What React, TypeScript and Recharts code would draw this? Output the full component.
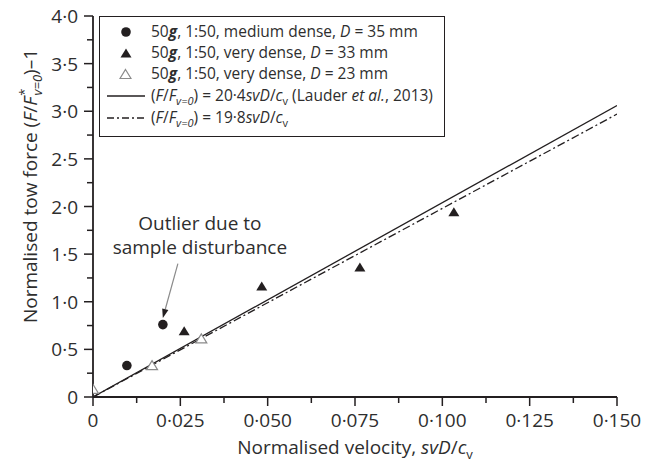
import { Label, Legend, ReferenceDot, ReferenceLine, Scatter, ScatterChart, XAxis, YAxis } from 'recharts'

// medium dense, D = 35 mm
const circleX = [0.0097, 0.02]
const circleY = [0.33, 0.76]
// very dense, D = 33 mm
const solidTriX = [0.0261, 0.0483, 0.0764, 0.1033]
const solidTriY = [0.69, 1.16, 1.36, 1.94]
// very dense, D = 23 mm
const openTriX = [0, 0.0169, 0.031]
const openTriY = [0.08, 0.33, 0.61]
// fitted lines, end points
const lauderX = [0, 0.15]
const lauderY = [0, 3.06]
const fitX = [0, 0.15]
const fitY = [0, 2.97]

const xTicks = [0, 0.0125, 0.025, 0.0375, 0.05, 0.0625, 0.075, 0.0875, 0.1, 0.1125, 0.125, 0.1375, 0.15]
const xMajor = [0, 0.025, 0.05, 0.075, 0.1, 0.125, 0.15]
const xLabels = ['0', '0·025', '0·050', '0·075', '0·100', '0·125', '0·150']
const yTicks = [0, 0.25, 0.5, 0.75, 1, 1.25, 1.5, 1.75, 2, 2.25, 2.5, 2.75, 3, 3.25, 3.5, 3.75, 4]
const yMajor = [0, 0.5, 1, 1.5, 2, 2.5, 3, 3.5, 4]
const yLabels = ['0', '0·5', '1·0', '1·5', '2·0', '2·5', '3·0', '3·5', '4·0']

// annotation arrow (tail, head) and text anchor
const arrowX = [0.0243, 0.02]
const arrowY = [1.4, 0.83]
const noteX = 0.0306
const noteY = 1.83

const zip = (xs: number[], ys: number[]) => xs.map((x, i) => ({ x, y: ys[i] }))

const INK = '#231f20'
const TXT = '#2e2e2e'
const FONT = '"Open Sans", "Noto Sans", sans-serif'

function XTick({ x, y, payload }: any) {
  const i = xMajor.indexOf(payload.value)
  const major = i >= 0
  return (
    <g>
      <line x1={x} x2={x} y1={y} y2={y + (major ? 9 : 6)} stroke={INK} strokeWidth={1.5} />
      {major && (
        <text x={x} y={y + 30} textAnchor="middle" fontSize={19} fill={TXT} fontFamily={FONT}>
          {xLabels[i]}
        </text>
      )}
    </g>
  )
}

function YTick({ x, y, payload }: any) {
  const i = yMajor.indexOf(payload.value)
  const major = i >= 0
  return (
    <g>
      <line x1={x} x2={x - (major ? 9 : 6)} y1={y} y2={y} stroke={INK} strokeWidth={1.5} />
      {major && (
        <text x={x - 15} y={y + 7} textAnchor="end" fontSize={19} fill={TXT} fontFamily={FONT}>
          {yLabels[i]}
        </text>
      )}
    </g>
  )
}

const Dot = ({ cx, cy }: any) => <circle cx={cx} cy={cy} r={4.8} fill={INK} />
const SolidTri = ({ cx, cy }: any) => (
  <path d={`M${cx},${cy - 5} L${cx + 5.5},${cy + 4} L${cx - 5.5},${cy + 4} Z`} fill={INK} />
)
const OpenTri = ({ cx, cy }: any) => (
  <path d={`M${cx},${cy - 5} L${cx + 5.5},${cy + 4} L${cx - 5.5},${cy + 4} Z`} fill="#fff" stroke="#8a8a8a" strokeWidth={1.2} />
)

function Arrow({ x1, y1, x2, y2 }: any) {
  const ang = Math.atan2(y2 - y1, x2 - x1)
  const len = 9
  const w = 3.2
  const bx = x2 - len * Math.cos(ang)
  const by = y2 - len * Math.sin(ang)
  const px = -Math.sin(ang) * w
  const py = Math.cos(ang) * w
  return (
    <g>
      <line x1={x1} y1={y1} x2={bx} y2={by} stroke="#8a8a8a" strokeWidth={1.2} />
      <path d={`M${x2},${y2} L${bx + px},${by + py} L${bx - px},${by - py} Z`} fill={INK} />
    </g>
  )
}

function Note({ cx, cy }: any) {
  return (
    <text textAnchor="middle" fontSize={19} fill={TXT} fontFamily={FONT}>
      <tspan x={cx} y={cy + 7}>Outlier due to</tspan>
      <tspan x={cx} y={cy + 31}>sample disturbance</tspan>
    </text>
  )
}

function LegendBox() {
  const row: React.CSSProperties = { display: 'flex', alignItems: 'center', height: 21, whiteSpace: 'nowrap' }
  const icon: React.CSSProperties = { width: 51, display: 'flex', justifyContent: 'center', alignItems: 'center', flexShrink: 0 }
  const sub: React.CSSProperties = { fontSize: 11, verticalAlign: 'sub', lineHeight: 0 }
  return (
    <div
      style={{
        border: `1.5px solid ${INK}`,
        width: 346,
        height: 121,
        boxSizing: 'border-box',
        padding: '4px 0 0 0',
        fontFamily: FONT,
        fontSize: 15.5,
        color: TXT,
        background: '#fff',
        lineHeight: '21px',
      }}
    >
      <div style={row}>
        <span style={icon}><svg width={12} height={12}><circle cx={6} cy={6} r={4.8} fill={INK} /></svg></span>
        <span>50<b><i>g</i></b>, 1:50, medium dense, <i>D</i> = 35 mm</span>
      </div>
      <div style={row}>
        <span style={icon}><svg width={12} height={12}><path d="M6,1.5 L11.5,10.5 L0.5,10.5 Z" fill={INK} /></svg></span>
        <span>50<b><i>g</i></b>, 1:50, very dense, <i>D</i> = 33 mm</span>
      </div>
      <div style={row}>
        <span style={icon}><svg width={13} height={12}><path d="M6.5,1.5 L12,10.5 L1,10.5 Z" fill="#fff" stroke="#8a8a8a" strokeWidth={1.2} /></svg></span>
        <span>50<b><i>g</i></b>, 1:50, very dense, <i>D</i> = 23 mm</span>
      </div>
      <div style={{ ...row, marginTop: 1 }}>
        <span style={icon}><svg width={40} height={6}><line x1={1} x2={39} y1={3} y2={3} stroke={INK} strokeWidth={1.3} /></svg></span>
        <span>(<i>F</i>/<i>F</i><i style={sub}>v=0</i>) = 20·4<i>svD</i>/<i>c</i><span style={sub}>v</span> (Lauder <i>et al.</i>, 2013)</span>
      </div>
      <div style={{ ...row, marginTop: 1 }}>
        <span style={icon}><svg width={40} height={6}><line x1={1} x2={39} y1={3} y2={3} stroke={INK} strokeWidth={1.3} strokeDasharray="7 3 2 3" /></svg></span>
        <span>(<i>F</i>/<i>F</i><i style={sub}>v=0</i>) = 19·8<i>svD</i>/<i>c</i><span style={sub}>v</span></span>
      </div>
    </div>
  )
}

export default function App() {
  return (
    <div style={{ position: 'fixed', left: 0, top: 0, width: 652, height: 468, background: '#fff' }}>
      <ScatterChart width={652} height={468} margin={{ top: 16, right: 35, bottom: 0, left: 0 }}>
        <XAxis
          type="number"
          dataKey="x"
          domain={[0, 0.15]}
          ticks={xTicks}
          interval={0}
          allowDataOverflow
          height={71}
          tickSize={0}
          tickMargin={0}
          tickLine={false}
          tick={<XTick />}
          axisLine={{ stroke: INK, strokeWidth: 1.8 }}
        >
          <Label
            content={() => (
              <text x={355} y={454} textAnchor="middle" fontSize={19} fill={TXT} fontFamily={FONT}>
                Normalised velocity, <tspan fontStyle="italic">svD</tspan>/<tspan fontStyle="italic">c</tspan>
                <tspan fontSize={13} dy={5}>v</tspan>
              </text>
            )}
          />
        </XAxis>
        <YAxis
          type="number"
          dataKey="y"
          domain={[0, 4]}
          ticks={yTicks}
          interval={0}
          allowDataOverflow
          width={93}
          tickSize={0}
          tickMargin={0}
          tickLine={false}
          tick={<YTick />}
          axisLine={{ stroke: INK, strokeWidth: 1.8 }}
        >
          <Label
            content={() => (
              <text transform="translate(37,186) rotate(-90)" textAnchor="middle" fontSize={19} fill={TXT} fontFamily={FONT}>
                Normalised tow force (<tspan fontStyle="italic">F</tspan>/<tspan fontStyle="italic">F</tspan>
                <tspan fontSize={13} dx={1} dy={-8}>*</tspan>
                <tspan fontSize={13} fontStyle="italic" dx={-7} dy={13}>v=0</tspan>
                <tspan dy={-5}>)–1</tspan>
              </text>
            )}
          />
        </YAxis>
        <Legend
          layout="horizontal"
          verticalAlign="middle"
          align="center"
          wrapperStyle={{ position: 'absolute', left: 99, top: 16, width: 'auto' }}
          content={() => <LegendBox />}
        />
        <Scatter data={zip(lauderX, lauderY)} line={{ stroke: INK, strokeWidth: 1.3 }} shape={() => null} isAnimationActive={false} legendType="none" />
        <Scatter
          data={zip(fitX, fitY)}
          line={{ stroke: INK, strokeWidth: 1.3, strokeDasharray: '8 3 2 3' }}
          shape={() => null}
          isAnimationActive={false}
          legendType="none"
        />
        <Scatter data={zip(openTriX, openTriY)} shape={<OpenTri />} isAnimationActive={false} />
        <Scatter data={zip(solidTriX, solidTriY)} shape={<SolidTri />} isAnimationActive={false} />
        <Scatter data={zip(circleX, circleY)} shape={<Dot />} isAnimationActive={false} />
        <ReferenceLine
          segment={[
            { x: arrowX[0], y: arrowY[0] },
            { x: arrowX[1], y: arrowY[1] },
          ]}
          shape={<Arrow />}
        />
        <ReferenceDot x={noteX} y={noteY} shape={<Note />} />
      </ScatterChart>
    </div>
  )
}
